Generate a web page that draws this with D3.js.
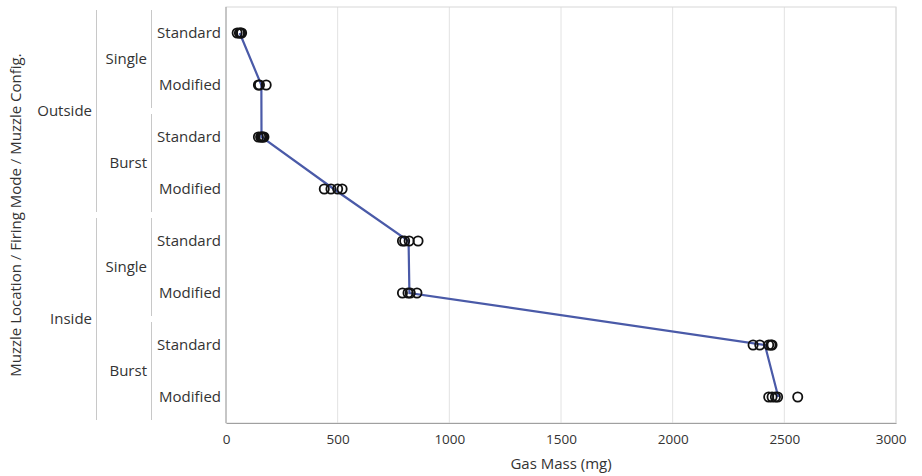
<!DOCTYPE html>
<html>
<head>
<meta charset="utf-8">
<script src="https://cdn.jsdelivr.net/npm/d3@7"></script>
<style>
  body { margin: 0; background: #fff; }
  text { font-family: "Open Sans", "Noto Sans", sans-serif; fill: #333; }
</style>
</head>
<body>
<div id="chart"></div>
<script>
// Gas mass chart: three-level categorical y axis, points plus mean line

var width = 922
var height = 476
var margin = {top: 7, right: 26, bottom: 53, left: 226}

// categories, top to bottom
var locations = ["Outside", "Inside"]
var modes = ["Single", "Burst"]
var configs = ["Standard", "Modified"]

// measured gas mass (mg), one array per row, in row order
var outSingleStd = [50, 60, 65, 70]
var outSingleMod = [145, 150, 180]
var outBurstStd = [145, 155, 160, 165, 170]
var outBurstMod = [440, 470, 500, 520]
var inSingleStd = [790, 800, 820, 860]
var inSingleMod = [790, 815, 825, 855]
var inBurstStd = [2360, 2390, 2430, 2440, 2445]
var inBurstMod = [2430, 2445, 2460, 2470, 2560]

var xTicks = [0, 500, 1000, 1500, 2000, 2500, 3000]

var series = [outSingleStd, outSingleMod, outBurstStd, outBurstMod,
              inSingleStd, inSingleMod, inBurstStd, inBurstMod]

// build rows from the category lists
var rows = []
locations.forEach(function(loc) {
    modes.forEach(function(mode) {
        configs.forEach(function(cfg) {
            rows.push({loc: loc, mode: mode, cfg: cfg, key: loc + "|" + mode + "|" + cfg})
        })
    })
})
rows.forEach(function(r, i) {
    r.values = series[i]
    r.mean = d3.mean(series[i])
})

var svg = d3.select("#chart").append("svg")
    .attr("width", width)
    .attr("height", height)

var x = d3.scaleLinear()
    .domain([0, 3000])
    .range([margin.left, width - margin.right])

var y = d3.scaleBand()
    .domain(rows.map(function(d) { return d.key }))
    .range([margin.top, height - margin.bottom])

var rowY = function(d) { return y(d.key) + y.bandwidth() / 2 }

// gridlines
svg.append("g")
    .selectAll("line")
    .data(xTicks.slice(1))
    .enter().append("line")
    .attr("x1", function(d) { return x(d) })
    .attr("x2", function(d) { return x(d) })
    .attr("y1", margin.top)
    .attr("y2", height - margin.bottom)
    .attr("stroke", "#e2e2e2")
    .attr("stroke-width", 1)

// frame
svg.append("rect")
    .attr("x", margin.left)
    .attr("y", margin.top)
    .attr("width", x(3000) - margin.left)
    .attr("height", height - margin.bottom - margin.top)
    .attr("fill", "none")
    .attr("stroke", "#d8d8d8")

// x axis
var xAxis = svg.append("g")
    .attr("transform", "translate(0," + (height - margin.bottom) + ")")
    .call(d3.axisBottom(x).tickValues(xTicks).tickSize(0).tickPadding(11).tickFormat(d3.format("d")))
xAxis.select(".domain").attr("stroke", "#a0a0a0")
xAxis.selectAll("text")
    .style("font-size", "13.5px")
    .attr("fill", "#333")
xAxis.selectAll(".tick:last-of-type text").attr("dx", "-0.4em")

svg.append("text")
    .attr("x", (margin.left + x(3000)) / 2)
    .attr("y", 469)
    .attr("text-anchor", "middle")
    .style("font-size", "15px")
    .text("Gas Mass (mg)")

svg.append("line")
    .attr("x1", margin.left).attr("x2", margin.left)
    .attr("y1", margin.top).attr("y2", height - margin.bottom)
    .attr("stroke", "#a0a0a0")

// level 3 labels
svg.append("g")
    .selectAll("text")
    .data(rows)
    .enter().append("text")
    .attr("x", 221)
    .attr("y", rowY)
    .attr("dy", "0.35em")
    .attr("text-anchor", "end")
    .style("font-size", "15px")
    .text(function(d) { return d.cfg })

// level 2 groups
var modeGroups = []
locations.forEach(function(loc) {
    modes.forEach(function(mode) {
        var sub = rows.filter(function(r) { return r.loc === loc && r.mode === mode })
        modeGroups.push({name: mode, top: y(sub[0].key), bottom: y(sub[sub.length - 1].key) + y.bandwidth()})
    })
})
var locGroups = locations.map(function(loc) {
    var sub = rows.filter(function(r) { return r.loc === loc })
    return {name: loc, top: y(sub[0].key), bottom: y(sub[sub.length - 1].key) + y.bandwidth()}
})

function drawGroups(groups, lineX, labelX) {
    var g = svg.append("g")
    g.selectAll("line")
        .data(groups)
        .enter().append("line")
        .attr("x1", lineX).attr("x2", lineX)
        .attr("y1", function(d) { return d.top + 3 })
        .attr("y2", function(d) { return d.bottom - 3 })
        .attr("stroke", "#c8c8c8")
    g.selectAll("text")
        .data(groups)
        .enter().append("text")
        .attr("x", labelX)
        .attr("y", function(d) { return (d.top + d.bottom) / 2 })
        .attr("dy", "0.35em")
        .attr("text-anchor", "end")
        .style("font-size", "15px")
        .text(function(d) { return d.name })
}
drawGroups(modeGroups, 151.5, 147)
drawGroups(locGroups, 96.5, 92)

// y title
svg.append("text")
    .attr("transform", "translate(21," + ((margin.top + height - margin.bottom) / 2) + ") rotate(-90)")
    .attr("text-anchor", "middle")
    .style("font-size", "15px")
    .text("Muzzle Location / Firing Mode / Muzzle Config.")

// mean line
var line = d3.line()
    .x(function(d) { return x(d.mean) })
    .y(rowY)

svg.append("path")
    .datum(rows)
    .attr("d", line)
    .attr("fill", "none")
    .attr("stroke", "#4a5aa8")
    .attr("stroke-width", 2.2)

// points
var pts = []
rows.forEach(function(r) {
    r.values.forEach(function(v) { pts.push({v: v, row: r}) })
})

svg.append("g")
    .selectAll("circle")
    .data(pts)
    .enter().append("circle")
    .attr("cx", function(d) { return x(d.v) })
    .attr("cy", function(d) { return rowY(d.row) })
    .attr("r", 4.6)
    .attr("fill", "none")
    .attr("stroke", "#111")
    .attr("stroke-width", 1.8)
</script>
</body>
</html>
